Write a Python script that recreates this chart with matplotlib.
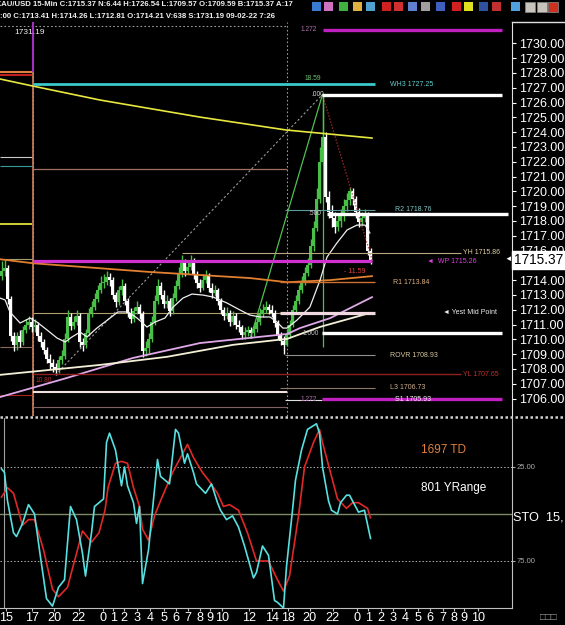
import numpy as np
import matplotlib
matplotlib.use("Agg")
import matplotlib.pyplot as plt
import matplotlib.transforms as mtransforms
from matplotlib.lines import Line2D
from matplotlib.patches import Rectangle

W, H = 565, 625
OUT = "out.png"

plt.rcParams["font.family"] = ["Liberation Sans", "DejaVu Sans"]

# ---------------- data ----------------
HEADER_1 = "XAU/USD 15-Min C:1715.37 N:6.44 H:1726.54 L:1709.57 O:1709.59 B:1715.37 A:17"
HEADER_2 = ":00 C:1713.41 H:1714.26 L:1712.81 O:1714.21 V:638 S:1731.19 09-02-22 7:26"

FIRST_OPEN = 1714.3
CLOSES = [
    1714.6, 1714.8, 1712.7, 1710.2, 1709.6, 1710.2, 1709.8, 1710.6, 1711.0, 1711.2,
    1710.8, 1711.0, 1710.2, 1709.8, 1709.3, 1708.7, 1708.4, 1708.1, 1707.9, 1708.6,
    1708.9, 1710.0, 1711.5, 1710.9, 1711.2, 1711.6, 1709.8, 1709.6, 1710.4, 1711.8,
    1712.2, 1712.7, 1713.3, 1713.8, 1713.9, 1714.2, 1714.0, 1713.0, 1712.5, 1713.3,
    1713.6, 1712.6, 1711.8, 1711.4, 1711.9, 1712.2, 1711.7, 1709.2, 1709.4, 1710.0,
    1711.2, 1712.6, 1713.6, 1713.0, 1712.4, 1712.6, 1711.9, 1712.8, 1713.6, 1714.4,
    1715.2, 1714.6, 1714.9, 1715.3, 1714.4, 1713.8, 1713.5, 1714.0, 1714.3, 1713.5,
    1713.1, 1713.3, 1712.6, 1712.0, 1711.6, 1711.8, 1711.2, 1711.6, 1711.0, 1710.8,
    1710.3, 1710.5, 1710.6, 1710.4, 1710.7, 1711.2, 1711.7, 1712.0, 1712.2, 1712.0,
    1711.8, 1711.1, 1710.3, 1709.9, 1709.6, 1710.3, 1711.0, 1712.0, 1712.6, 1713.3,
    1713.9, 1714.5, 1715.0, 1716.3, 1717.5, 1719.5, 1722.0, 1723.7, 1719.6, 1718.6,
    1718.2, 1717.6, 1718.0, 1718.3, 1719.0, 1719.4, 1720.0, 1719.5, 1718.6, 1717.9,
    1718.2, 1718.4, 1716.0, 1715.37,
]
HIGHS = [
    1715.3, 1715.4, 1715.0, 1712.9, 1710.5, 1710.5, 1710.6, 1710.9, 1711.4, 1711.6,
    1711.5, 1711.4, 1711.2, 1710.5, 1710.0, 1709.5, 1709.0, 1708.7, 1708.4, 1708.9,
    1709.3, 1710.4, 1712.0, 1711.8, 1711.6, 1712.0, 1711.8, 1710.1, 1710.7, 1712.1,
    1712.6, 1713.1, 1713.7, 1714.3, 1714.4, 1714.6, 1714.5, 1714.2, 1713.2, 1713.6,
    1714.1, 1713.8, 1712.8, 1712.1, 1712.2, 1712.6, 1712.4, 1711.9, 1709.9, 1710.4,
    1711.6, 1713.0, 1714.1, 1713.9, 1713.3, 1713.0, 1712.8, 1713.1, 1714.0, 1714.9,
    1715.7, 1715.4, 1715.3, 1715.7, 1715.5, 1714.6, 1714.1, 1714.4, 1714.7, 1714.5,
    1713.8, 1713.7, 1713.5, 1712.8, 1712.2, 1712.2, 1712.0, 1711.9, 1711.8, 1711.3,
    1711.0, 1710.8, 1710.9, 1710.8, 1711.0, 1711.5, 1712.1, 1712.4, 1712.6, 1712.4,
    1712.3, 1712.0, 1711.3, 1710.5, 1710.2, 1710.6, 1711.3, 1712.3, 1713.0, 1713.7,
    1714.3, 1714.9, 1715.5, 1716.8, 1718.0, 1720.2, 1723.0, 1726.54, 1724.0, 1720.0,
    1719.1, 1718.6, 1718.5, 1718.8, 1719.5, 1719.9, 1720.3, 1720.2, 1719.7, 1718.9,
    1718.6, 1718.8, 1718.6, 1716.2,
]
LOWS = [
    1714.0, 1714.3, 1712.4, 1709.9, 1709.2, 1709.3, 1709.5, 1709.6, 1710.4, 1710.7,
    1710.5, 1710.5, 1709.9, 1709.5, 1709.0, 1708.4, 1708.0, 1707.8, 1707.6, 1707.7,
    1708.3, 1708.7, 1709.8, 1710.6, 1710.7, 1711.0, 1709.5, 1709.2, 1709.4, 1710.2,
    1711.5, 1712.0, 1712.5, 1713.1, 1713.5, 1713.7, 1713.6, 1712.7, 1712.2, 1712.3,
    1713.0, 1712.3, 1711.5, 1711.1, 1711.2, 1711.7, 1711.4, 1708.8, 1708.9, 1709.1,
    1709.8, 1711.0, 1712.4, 1712.7, 1712.1, 1712.1, 1711.6, 1711.7, 1712.6, 1713.4,
    1714.2, 1714.3, 1714.4, 1714.7, 1714.1, 1713.5, 1713.2, 1713.3, 1713.8, 1713.2,
    1712.8, 1712.9, 1712.3, 1711.7, 1711.3, 1711.4, 1710.9, 1711.0, 1710.7, 1710.5,
    1710.0, 1710.0, 1710.2, 1710.1, 1710.2, 1710.5, 1711.0, 1711.5, 1711.8, 1711.7,
    1711.5, 1710.8, 1710.0, 1709.6, 1709.0, 1709.57, 1710.1, 1710.8, 1711.8, 1712.4,
    1713.1, 1713.7, 1714.3, 1714.8, 1716.0, 1717.3, 1719.2, 1721.8, 1719.3, 1718.2,
    1717.6, 1717.2, 1717.3, 1717.6, 1718.0, 1718.7, 1719.1, 1719.1, 1718.2, 1717.6,
    1717.7, 1717.9, 1715.7, 1715.1,
]

# moving averages (bar index, price)
YELLOW_MA_BARS = [-0.5, 10.5, 32.8, 66.0, 95.0, 123.5]
YELLOW_MA = [1727.59, 1727.11, 1726.17, 1725.02, 1724.14, 1723.60]
ORANGE_MA_BARS = [-0.5, 10.5, 49.5, 82.8, 95.2, 109.5, 123.5]
ORANGE_MA = [1715.41, 1715.14, 1714.55, 1714.14, 1713.86, 1714.00, 1714.27]
VIOLET_MA_BARS = [-0.5, 21.8, 43.8, 66.2, 95.2, 99.5, 109.5, 123.5]
VIOLET_MA = [1706.10, 1707.39, 1708.74, 1709.75, 1710.36, 1710.76, 1711.43, 1712.85]
CREAM_MA_BARS = [-0.5, 32.8, 55.2, 77.2, 95.2, 106.2, 122.8]
CREAM_MA = [1707.60, 1708.27, 1708.82, 1709.63, 1710.03, 1710.84, 1711.78]
FAST_MA_BARS = [-0.5, 1.2, 2.8, 6.2, 9.5, 11.8, 15.2, 18.5, 21.2, 23.5, 26.2, 28.5,
                31.8, 36.2, 38.8, 42.2, 45.2, 48.5, 51.2, 54.5, 57.2, 60.5, 63.5,
                67.2, 70.5, 75.2, 79.5, 82.8, 86.2, 89.5, 91.8, 93.8, 95.2, 98.5,
                102.8, 106.2, 108.5, 111.8, 115.2, 118.5, 121.2, 122.8]
FAST_MA = [1712.79, 1712.66, 1711.85, 1711.10, 1711.44, 1711.17, 1710.63, 1710.09,
           1709.82, 1710.16, 1710.49, 1710.16, 1710.76, 1711.44, 1711.85, 1711.85,
           1711.44, 1710.83, 1711.17, 1711.44, 1712.18, 1712.79, 1713.06, 1712.99,
           1712.86, 1712.45, 1711.98, 1711.64, 1711.51, 1711.51, 1711.17, 1710.76,
           1710.76, 1711.30, 1712.18, 1714.01, 1715.56, 1716.51, 1717.39, 1717.72,
           1717.72, 1717.18]

# horizontal levels
LEFT_LEVELS = [1728.06, 1727.86, 1722.34, 1721.71, 1717.79, 1715.45, 1709.50, 1706.25]
SESSION_LEVELS = [1721.50, 1711.78, 1706.45, 1705.43]
PIVOT_NAMES = ["WH3", "R2", "YH", "WP", "R1", "Yest Mid Point", "ROVR", "YL", "L3", "S1"]
PIVOT_PRICES = [1727.25, 1718.76, 1715.86, 1715.26, 1713.84, 1711.80, 1708.93, 1707.65, 1706.73, 1705.93]
FIB_RATIOS = ["1.272", ".000", ".500", "1.000", "1.272"]
FIB_PRICES = [1730.93, 1726.54, 1718.47, 1710.40, 1705.95]
SETTLE_PRICE = 1731.19
SESSION_BARS = [10.5, 95.2]

# stochastic (bar index, value)
STO_FAST_BARS = [0, 1, 2, 4, 5, 7, 9, 11, 13, 15, 17, 19, 21, 23, 25, 27, 28, 30, 31, 34,
                 35, 36, 38, 40, 41, 42, 44, 45, 46, 47, 49, 50, 52, 53, 56, 58, 59, 61, 62, 64,
                 65, 68, 70, 72, 73, 75, 77, 79, 81, 84, 85, 87, 89, 91, 92, 94, 95, 97, 98, 100,
                 102, 104, 105, 106, 107, 109, 110, 112, 113, 115, 116, 118, 119, 121, 123]
STO_FAST = [26, 28, 43, 60, 62, 55, 45, 50, 73, 95, 99, 89, 85, 46, 53, 71, 83, 60, 46, 42,
            12, 7, 16, 35, 25, 35, 44, 55, 46, 87, 69, 53, 21, 30, 34, 5, 7, 23, 18, 28,
            34, 39, 34, 44, 48, 53, 51, 57, 67, 84, 81, 67, 72, 96, 97, 100, 78, 48, 32, 16,
            5, 3, 2, 7, 25, 43, 48, 50, 44, 40, 40, 46, 49, 48, 63]
STO_SLOW_BARS = [0, 2, 4, 7, 9, 11, 14, 17, 19, 22, 25, 27, 30, 32.5, 34.5, 35.5, 38, 40, 42, 44,
                 46, 47, 49, 51, 53, 57, 61, 62, 64, 67, 69, 72, 74, 76, 79, 82, 85, 89, 92, 94,
                 96, 99, 101, 104, 106, 107, 110, 112, 115, 117, 119, 122, 123]
STO_SLOW = [41, 36, 39, 56, 53, 53, 69, 90, 94, 89, 71, 59, 65, 60, 48, 36, 23, 22, 23, 36,
            46, 58, 64, 51, 43, 28, 16, 13, 20, 28, 32, 39, 46, 45, 48, 60, 75, 75, 85, 91,
            83, 51, 25, 12, 5, 12, 30, 42, 47, 44, 44, 47, 52]

HOUR_LABELS = ["15", "17", "20", "22", "0", "1", "2", "3", "4", "5", "6", "7", "8", "9", "10",
               "12", "14", "18", "20", "22", "0", "1", "2", "3", "4", "5", "6", "7", "8", "9", "10"]
HOUR_BARS = [1.5, 10.2, 17.5, 25.8, 33.8, 37.3, 40.8, 45.2, 49.5, 54.2, 58.2, 62.2, 66.2, 69.6,
             73.4, 82.5, 90.2, 95.5, 102.8, 110.5, 118.5, 122.2, 126.5, 130.5, 134.5, 138.8,
             142.8, 147.2, 150.8, 154.3, 158.9]


def bx(px):
    # screen column -> bar index (bars are 3 px apart)
    return (px - 1.5) / 3.0


def fig_rect(x0, y0, x1, y1):
    return [x0 / W, 1 - y1 / H, (x1 - x0) / W, (y1 - y0) / H]


def ptext(fig, x, y, s, color, size=5.0, **kw):
    fig.text(x / W, 1 - y / H, s, color=color, fontsize=size, ha="left", va="center", **kw)


def draw_header(fig):
    ptext(fig, -4, 5, HEADER_1, "#f0f0f0", 5.6, weight="bold")
    ptext(fig, 0, 17, HEADER_2, "#f0f0f0", 5.6, weight="bold")
    icons = [(312, "#3a7ad0"), (324, "#d070c0"), (339, "#40b040"), (353, "#e0b040"),
             (366, "#50a0d0"), (382, "#d02020"), (394, "#d03030"), (408, "#6080d0"),
             (421, "#a0a0a0"), (436, "#4060c0"), (452, "#d02020"), (464, "#e0e020"),
             (479, "#3050a0"), (492, "#c03030"), (511, "#50a0e0")]
    for x, c in icons:
        fig.patches.append(Rectangle((x / W, 1 - 11 / H), 9 / W, 9 / H, transform=fig.transFigure,
                                     facecolor=c, edgecolor="none"))
    for x, c in [(525, "#c8c4bc"), (537, "#c8c4bc"), (548, "#d03020")]:
        fig.patches.append(Rectangle((x / W, 1 - 12 / H), 10 / W, 10 / H, transform=fig.transFigure,
                                     facecolor=c, edgecolor="#808080", lw=0.6))


def draw_price_panel(fig, ax):
    ax.set_facecolor("black")
    ax.set_xlim(bx(0), bx(512))
    ax.set_ylim(1704.82, 1731.44)

    # session dividers and cursor line
    for b in SESSION_BARS:
        ax.axvline(b, color="#9a9a9a", lw=0.8, ls=(0, (1.5, 2)), zorder=1)
    ax.vlines(SESSION_BARS[0], 1704.82, LEFT_LEVELS[0], color="#d08060", lw=1.2, zorder=2)
    ax.vlines(SESSION_BARS[0], LEFT_LEVELS[0], 1731.44, color="#a030c0", lw=1.5, zorder=2)
    ax.hlines(SETTLE_PRICE, bx(0), SESSION_BARS[1], color="#9a9a9a", lw=0.8,
              ls=(0, (1.5, 2)), zorder=1)

    # yesterday levels on the left edge
    left_colors = ["#e08040", "#c02020", "#c8c8c8", "#3a9a9a", "#e0e040", "#a0a070", "#8a6a5a", "#b02020"]
    left_lw = [1.5, 1.5, 0.8, 0.8, 1.3, 0.8, 0.8, 0.8]
    for p, c, lw in zip(LEFT_LEVELS, left_colors, left_lw):
        ax.hlines(p, bx(0), bx(32), color=c, lw=lw, zorder=2)

    sess_colors = ["#a07060", "#b0a070", "#f0e0e0", "#806060"]
    sess_lw = [0.9, 0.8, 1.5, 0.8]
    for p, c, lw in zip(SESSION_LEVELS, sess_colors, sess_lw):
        ax.hlines(p, SESSION_BARS[0], SESSION_BARS[1], color=c, lw=lw, zorder=2)

    # moving averages
    ax.plot(YELLOW_MA_BARS, YELLOW_MA, color="#e8e840", lw=1.2, zorder=5)
    ax.plot(ORANGE_MA_BARS, ORANGE_MA, color="#e08030", lw=1.3, zorder=5)
    ax.plot(VIOLET_MA_BARS, VIOLET_MA, color="#e0a8e8", lw=1.3, zorder=5)
    ax.plot(CREAM_MA_BARS, CREAM_MA, color="#f4f0d8", lw=1.3, zorder=5)
    ax.plot(FAST_MA_BARS, FAST_MA, color="#f0f0f0", lw=0.9, zorder=5)

    # candles
    closes = np.array(CLOSES)
    opens = np.r_[FIRST_OPEN, closes[:-1]]
    bars = np.arange(len(closes))
    cols = np.where(closes >= opens, "#48c048", "#ffffff")
    ax.vlines(bars, LOWS, HIGHS, colors=cols, lw=1.0, zorder=3)
    ax.bar(bars, np.abs(closes - opens), bottom=np.minimum(opens, closes), width=0.72,
           color=cols, zorder=3)

    # trend / fib tool lines
    top = int(np.argmax(HIGHS))
    low = int(np.argmin(LOWS[:40]))
    ax.plot([low, top], [LOWS[low], HIGHS[top]], color="#9a9a9a", lw=0.8, ls=(0, (2, 2)), zorder=4)
    ax.plot([top, len(CLOSES) - 0.5], [HIGHS[top], CLOSES[-1]], color="#c03030", lw=0.9,
            ls=(0, (1, 1.5)), zorder=4)
    ax.plot([83, top], [LOWS[83], HIGHS[top]], color="#50c050", lw=0.9, zorder=4)
    ax.vlines(top, FIB_PRICES[3] - 0.9, HIGHS[top], color="#50c050", lw=0.9, zorder=4)

    # pivot levels
    spec = {
        "WH3": (33, 375, "#3cc8c8", 2.0, 390, "#60d0d0"),
        "R2": (285, 375, "#5a9a9a", 0.8, 395, "#80c8c8"),
        "YH": (182, 461, "#b8a880", 0.8, 463, "#e0d0a0"),
        "WP": (33, 372, "#d030d0", 2.3, 427, "#e040e0"),
        "R1": (280, 375, "#d07030", 1.0, 393, "#e0b080"),
        "Yest Mid Point": (280, 375, "#f0d8e0", 2.3, 443, "#f0f0f0"),
        "ROVR": (285, 375, "#909090", 0.8, 390, "#d8c8a0"),
        "YL": (33, 461, "#902020", 1.0, 463, "#c03030"),
        "L3": (280, 375, "#8a7a6a", 0.8, 390, "#d0b090"),
        "S1": (285, 322, "#e0e0e0", 0.8, 395, "#f0f0f0"),
    }
    for name, p in zip(PIVOT_NAMES, PIVOT_PRICES):
        x0, x1, c, lw, lx, lc = spec[name]
        ax.hlines(p, bx(x0), bx(x1), color=c, lw=lw, zorder=6)
        if name == "Yest Mid Point":
            label = "\u25c4 Yest Mid Point"
        elif name == "WP":
            label = f"\u25c4  WP {p:.2f}"
        else:
            label = f"{name} {p:.2f}"
        ax.text(bx(lx), p, label, color=lc, fontsize=5.0, ha="left", va="center", zorder=8)

    fib_spec = [(323, 502, "#c020c0", 301, "#b070b0"), (322, 502, "#ffffff", 311, "#e0e0e0"),
                (327, 508, "#ffffff", 308, "#d0d0d0"), (322, 502, "#ffffff", 303, "#c0c0c0"),
                (322, 502, "#c020c0", 301, "#b070b0")]
    for r, p, (x0, x1, c, lx, lc) in zip(FIB_RATIOS, FIB_PRICES, fib_spec):
        ax.hlines(p, bx(x0), bx(x1), color=c, lw=2.4, zorder=7)
        ax.text(bx(lx), p, r, color=lc, fontsize=4.8, ha="left", va="center", zorder=8)
    ax.text(bx(305), 1727.6, "18.59", color="#70c070", fontsize=4.8, ha="left", va="center", zorder=8)
    ax.text(bx(344), 1714.6, "- 11.59", color="#e04040", fontsize=5.0, ha="left", va="center", zorder=8)
    ax.text(bx(36), 1707.2, "10.80", color="#b03030", fontsize=4.8, ha="left", va="center", zorder=8)
    ax.text(bx(14), 1730.75, f"{SETTLE_PRICE:.2f}", color="#f0f0f0", fontsize=6, ha="left",
            va="center", zorder=8)

    # price scale
    for s in ["left", "top", "bottom"]:
        ax.spines[s].set_visible(False)
    ax.spines["right"].set_color("#e0e0e0")
    ax.yaxis.tick_right()
    ax.set_yticks(np.arange(1706, 1731))
    ax.yaxis.set_major_formatter(plt.FormatStrFormatter("%.2f"))
    ax.tick_params(axis="y", colors="#ffffff", labelsize=9.0, length=3, pad=2)
    ax.set_xticks([])
    last = mtransforms.blended_transform_factory(ax.transAxes, ax.transData)
    ax.text(1.004, CLOSES[-1], f"{CLOSES[-1]:.2f}", transform=last, color="black", fontsize=9.8,
            ha="left", va="center", zorder=10, clip_on=False,
            bbox=dict(facecolor="white", edgecolor="white", pad=1.6))
    ax.text(0.985, CLOSES[-1], "\u25c4", transform=last, color="white", fontsize=5.5,
            ha="left", va="center", zorder=10, clip_on=False)


def draw_stochastic_panel(fig, ax2):
    ax2.set_facecolor("black")
    ax2.set_xlim(bx(0), bx(512))
    ax2.set_ylim(100, -1.06)
    ax2.axhline(25, color="#b0b0b0", lw=0.7, ls=(0, (1.5, 2)))
    ax2.axhline(75, color="#b0b0b0", lw=0.7, ls=(0, (1.5, 2)))
    ax2.axhline(50, color="#7d8a68", lw=1.0)
    ax2.axvline(bx(4), color="#a0a0a0", lw=0.8)
    ax2.plot(STO_SLOW_BARS, STO_SLOW, color="#e02828", lw=1.2, zorder=3)
    ax2.plot(STO_FAST_BARS, STO_FAST, color="#58e0e0", lw=1.2, zorder=4)

    for s in ["left", "top"]:
        ax2.spines[s].set_visible(False)
    ax2.spines["right"].set_color("#c0c0c0")
    ax2.spines["bottom"].set_color("#c0c0c0")
    ax2.yaxis.tick_right()
    ax2.set_yticks([25, 75])
    ax2.yaxis.set_major_formatter(plt.FormatStrFormatter("%.2f"))
    ax2.tick_params(axis="y", colors="#a8a8a8", labelsize=5.5, length=2, pad=1.5)
    ax2.set_xticks(HOUR_BARS, HOUR_LABELS)
    ax2.tick_params(axis="x", colors="#c0c0c0", labelcolor="white", labelsize=9.1, length=2, pad=1)

    ptext(fig, 421, 450, "1697 TD", "#e08040", 8.5)
    ptext(fig, 421, 488, "801 YRange", "#ffffff", 8.5)
    ptext(fig, 513, 518, "STO  15,", "#ffffff", 9.2)
    ptext(fig, 540, 617, "\u25a1\u25a1\u25a1", "#a0a0a0", 7)


def main():
    fig = plt.figure(figsize=(W / 100, H / 100), dpi=100, facecolor="black")
    ax = fig.add_axes(fig_rect(0, 22, 512, 416))
    ax2 = fig.add_axes(fig_rect(0, 418, 512, 608))

    draw_header(fig)
    draw_price_panel(fig, ax)
    draw_stochastic_panel(fig, ax2)

    # panel divider and price-scale frame
    fig.add_artist(Line2D([0, 1], [1 - 417 / H] * 2, transform=fig.transFigure,
                          color="#d0d0d0", lw=1.8, ls=(0, (1, 1))))
    fig.add_artist(Line2D([512 / W, 1], [1 - 22 / H] * 2, transform=fig.transFigure,
                          color="#e0e0e0", lw=1.0))

    fig.savefig(OUT, dpi=100, facecolor="black")
    plt.close(fig)


if __name__ == "__main__":
    main()
